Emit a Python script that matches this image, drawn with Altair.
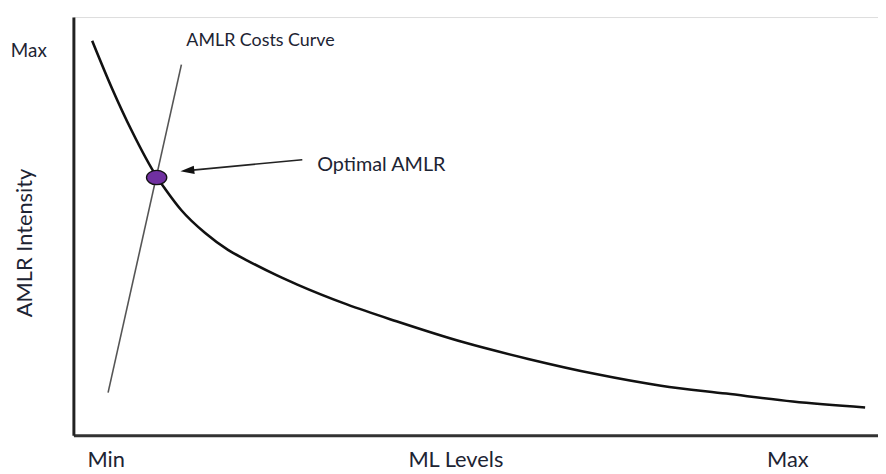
import altair as alt
import pandas as pd

# Chart units: x = ML level (0..812), y = AMLR intensity (0..422)
curve_x = [19, 39, 59, 84, 93, 109, 133, 156, 176, 206, 226, 276, 326, 393, 459, 526, 593, 659, 726, 799]
curve_y = [398, 350, 307, 261, 248, 227, 204, 187, 176, 161, 152, 132, 115, 94, 77, 62, 50, 42, 34, 28]

cost_x = [35, 109]
cost_y = [43, 374]

opt_x = [84]
opt_y = [260]

arrow_x = [231, 115]
arrow_y = [278, 267]

label_text = ["Max", "AMLR Costs Curve", "Optimal AMLR", "Min", "ML Levels", "Max"]
label_x = [-45, 114, 246, 33, 386, 721]
label_y = [382, 393, 267, -32, -32, -32]
label_size = [19, 18, 20, 22, 22, 22]
label_align = ["center", "left", "left", "center", "center", "center"]

FONT = "Lato"
TXT = "#1d2433"

xs = alt.Scale(domain=[0, 812], nice=False, zero=False)
ys = alt.Scale(domain=[0, 422], nice=False, zero=False)

base_axes = alt.Chart(pd.DataFrame({"x": [0], "y": [0]})).mark_point(opacity=0).encode(
    x=alt.X("x:Q", scale=xs, axis=alt.Axis(title=None, labels=False, ticks=False, grid=False,
                                           domainColor="#333", domainWidth=3)),
    y=alt.Y("y:Q", scale=ys, axis=alt.Axis(title=None, labels=False, ticks=False, grid=False,
                                           domainColor="#222", domainWidth=3)),
)

curve = alt.Chart(pd.DataFrame({"x": curve_x, "y": curve_y, "o": list(range(len(curve_x)))})).mark_line(
    color="#111", strokeWidth=2.6, interpolate="monotone").encode(
    x=alt.X("x:Q", scale=xs), y=alt.Y("y:Q", scale=ys), order="o:Q")

cost = alt.Chart(pd.DataFrame({"x": cost_x, "y": cost_y})).mark_line(
    color="#555", strokeWidth=1.6).encode(x=alt.X("x:Q", scale=xs), y=alt.Y("y:Q", scale=ys))

arrow_line = alt.Chart(pd.DataFrame({"x": arrow_x, "y": arrow_y})).mark_line(
    color="#222", strokeWidth=1.6).encode(x=alt.X("x:Q", scale=xs), y=alt.Y("y:Q", scale=ys))

arrow_head = alt.Chart(pd.DataFrame({"x": [arrow_x[1]], "y": [arrow_y[1]]})).mark_point(
    shape="M-1,0 L1,-0.6 L1,0.6 Z", filled=True, color="#111", size=196, opacity=1, angle=354).encode(
    x=alt.X("x:Q", scale=xs), y=alt.Y("y:Q", scale=ys))

dot = alt.Chart(pd.DataFrame({"x": opt_x, "y": opt_y})).mark_point(
    shape="M-1,0 A1,0.7 0 1,0 1,0 A1,0.7 0 1,0 -1,0 Z", filled=True, fill="#7030A0",
    stroke="#111", strokeWidth=1.3, size=420, opacity=1).encode(
    x=alt.X("x:Q", scale=xs), y=alt.Y("y:Q", scale=ys))

labels_df = pd.DataFrame({"t": label_text, "x": label_x, "y": label_y, "s": label_size, "a": label_align})
text_layers = []
for a in ["center", "left"]:
    sub = labels_df[labels_df["a"] == a]
    for s in sorted(sub["s"].unique()):
        d = sub[sub["s"] == s]
        text_layers.append(alt.Chart(d).mark_text(
            font=FONT, fontSize=int(s), color=TXT, align=a, baseline="alphabetic").encode(
            x=alt.X("x:Q", scale=xs), y=alt.Y("y:Q", scale=ys), text="t:N"))

ytitle = alt.Chart(pd.DataFrame({"t": ["AMLR Intensity"], "x": [-42], "y": [194]})).mark_text(
    font=FONT, fontSize=22, color=TXT, angle=270, align="center", baseline="alphabetic").encode(
    x=alt.X("x:Q", scale=xs), y=alt.Y("y:Q", scale=ys), text="t:N")

chart = alt.layer(base_axes, cost, curve, arrow_line, arrow_head, dot, ytitle, *text_layers).properties(
    width=812, height=422,
    autosize=alt.AutoSizeParams(type="none"),
    padding={"left": 66, "top": 7, "right": 0, "bottom": 36},
).configure_view(stroke=None).configure(background="white")

chart.save("out.html", embed_options={"renderer": "svg", "actions": False})
